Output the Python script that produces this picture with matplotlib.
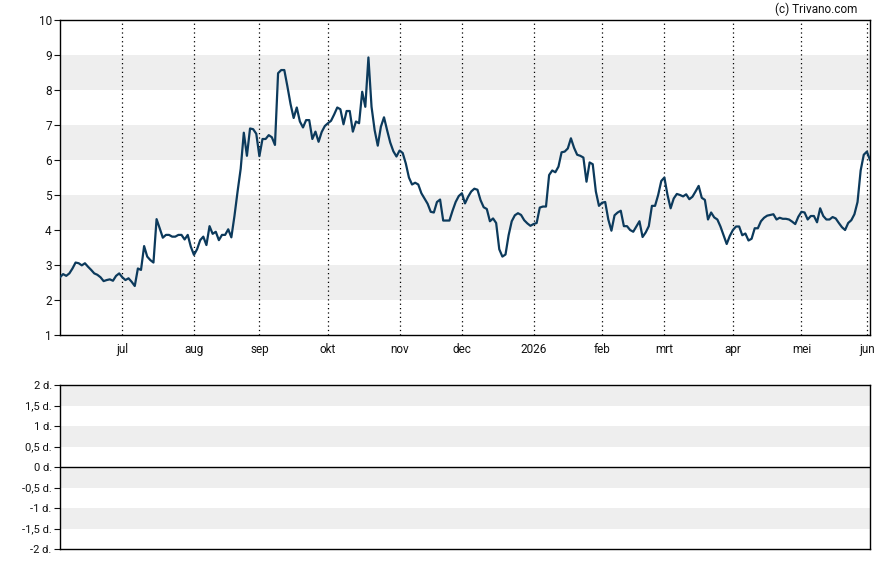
import numpy as np
import pandas as pd
import matplotlib
matplotlib.use('Agg')
import matplotlib.pyplot as plt

plt.rcParams['font.family'] = ['Roboto', 'DejaVu Sans']

# koersdata per handelsdag
start_date = '2025-06-03'
end_date = '2026-06-02'
prices = [
    2.65, 2.74, 2.69, 2.76, 2.90, 3.07, 3.05, 2.99, 3.05, 2.95,
    2.86, 2.76, 2.72, 2.65, 2.54, 2.57, 2.59, 2.55, 2.69, 2.76,
    2.65, 2.57, 2.62, 2.52, 2.40, 2.90, 2.86, 3.54, 3.24, 3.14,
    3.07, 4.31, 4.05, 3.78, 3.86, 3.86, 3.81, 3.81, 3.86, 3.86,
    3.73, 3.86, 3.52, 3.29, 3.45, 3.71, 3.81, 3.57, 4.11, 3.89,
    3.95, 3.71, 3.86, 3.86, 4.02, 3.79, 4.40, 5.10, 5.75, 6.78,
    6.12, 6.90, 6.88, 6.75, 6.11, 6.60, 6.60, 6.71, 6.65, 6.43,
    8.48, 8.57, 8.57, 8.10, 7.60, 7.20, 7.50, 7.10, 6.93, 7.14,
    7.14, 6.60, 6.81, 6.52, 6.80, 6.97, 7.05, 7.12, 7.30, 7.50,
    7.45, 7.02, 7.40, 7.40, 6.81, 7.10, 7.05, 7.95, 7.52, 8.93,
    7.52, 6.85, 6.41, 6.95, 7.22, 6.85, 6.50, 6.25, 6.10, 6.27,
    6.20, 5.90, 5.50, 5.30, 5.35, 5.30, 5.05, 4.90, 4.75, 4.52,
    4.50, 4.80, 4.87, 4.27, 4.27, 4.27, 4.55, 4.80, 4.97, 5.05,
    4.76, 4.95, 5.10, 5.18, 5.15, 4.85, 4.65, 4.60, 4.25, 4.33,
    4.20, 3.45, 3.24, 3.30, 3.85, 4.25, 4.42, 4.48, 4.43, 4.28,
    4.19, 4.12, 4.17, 4.20, 4.64, 4.67, 4.67, 5.57, 5.70, 5.65,
    5.81, 6.22, 6.24, 6.33, 6.62, 6.35, 6.15, 6.12, 6.07, 5.38,
    5.93, 5.88, 5.10, 4.69, 4.78, 4.80, 4.30, 3.98, 4.42, 4.50,
    4.55, 4.11, 4.11, 4.00, 3.95, 4.10, 4.25, 3.80, 3.93, 4.11,
    4.69, 4.69, 5.00, 5.40, 5.50, 5.00, 4.62, 4.90, 5.03, 5.00,
    4.96, 5.02, 4.88, 4.95, 5.10, 5.26, 4.92, 4.86, 4.30, 4.50,
    4.36, 4.30, 4.10, 3.85, 3.60, 3.83, 4.00, 4.10, 4.10, 3.85,
    3.90, 3.70, 3.75, 4.05, 4.05, 4.25, 4.35, 4.41, 4.43, 4.45,
    4.30, 4.35, 4.32, 4.32, 4.30, 4.24, 4.17, 4.38, 4.52, 4.50,
    4.30, 4.40, 4.40, 4.22, 4.62, 4.40, 4.30, 4.30, 4.37, 4.33,
    4.20, 4.08, 4.00, 4.20, 4.28, 4.45, 4.80, 5.70, 6.15, 6.24,
    6.00,
]
month_labels = ['jul', 'aug', 'sep', 'okt', 'nov', 'dec', '2026',
                'feb', 'mrt', 'apr', 'mei', 'jun']
price_bands = [(2, 3), (4, 5), (6, 7), (8, 9)]
lower_ticks = [2, 1.5, 1, 0.5, 0, -0.5, -1, -1.5, -2]
lower_labels = ['2 d.', '1,5 d.', '1 d.', '0,5 d.', '0 d.',
                '-0,5 d.', '-1 d.', '-1,5 d.', '-2 d.']
lower_bands = [(1.5, 2), (0.5, 1), (-0.5, 0), (-1.5, -1)]

dates = pd.bdate_range(start_date, end_date)
n = min(len(dates), len(prices))
dates = dates[:n]
x = np.arange(n)
y = np.array(prices[:n])

# eerste handelsdag van elke maand
month_idx = [i for i in range(1, n) if dates[i].month != dates[i - 1].month]

line_color = '#0c3a5c'
band_color = '#eeeeee'

fig = plt.figure(figsize=(8.88, 5.65), dpi=100)
ax = fig.add_axes([60 / 888, 1 - 335 / 565, 810 / 888, 315 / 565])
ax2 = fig.add_axes([60 / 888, 1 - 549 / 565, 810 / 888, 164 / 565])

# bovenste grafiek
for lo, hi in price_bands:
    ax.axhspan(lo, hi, color=band_color, lw=0, zorder=0)
for i in month_idx:
    ax.axvline(i, color='black', lw=0.9, ls=(0, (1, 2.5)), zorder=1)
ax.plot(x, y, color=line_color, lw=1.6, zorder=3)
ax.set_xlim(0, n - 1)
ax.set_ylim(1, 10)
ax.set_yticks(range(1, 11))
ax.set_xticks(month_idx)
ax.set_xticklabels(month_labels[:len(month_idx)])
ax.tick_params(axis='x', length=0, pad=6, labelsize=8.5, colors='#111111')
ax.tick_params(axis='y', length=4, width=0.8, pad=2, labelsize=8.5, colors='#111111')
for s in ax.spines.values():
    s.set_linewidth(1.0)
    s.set_color('black')

fig.text(857 / 888, 1 - 9 / 565, '(c) Trivano.com', ha='right', va='center',
         fontsize=8.5, color='#111111')

# onderste grafiek
for lo, hi in lower_bands:
    ax2.axhspan(lo, hi, color=band_color, lw=0, zorder=0)
ax2.axhline(0, color='black', lw=1.0, zorder=2)
ax2.set_xlim(0, n - 1)
ax2.set_ylim(-2, 2)
ax2.set_xticks([])
ax2.set_yticks(lower_ticks)
ax2.set_yticklabels(lower_labels)
ax2.tick_params(axis='y', length=4, width=0.8, pad=2, labelsize=8, colors='#111111')
for s in ax2.spines.values():
    s.set_linewidth(1.0)
    s.set_color('black')

fig.savefig('out.png', dpi=100)
